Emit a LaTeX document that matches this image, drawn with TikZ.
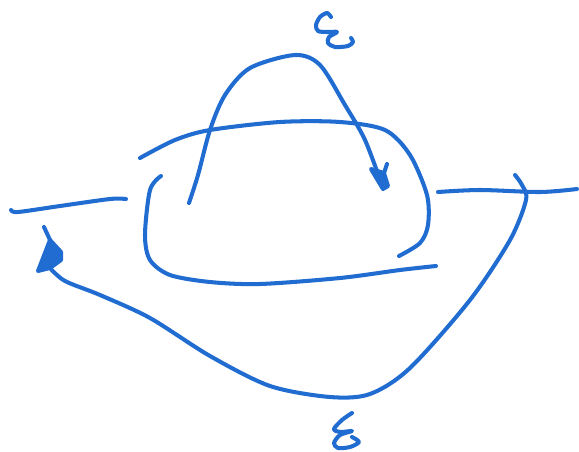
\documentclass[tikz,border=0pt]{standalone}
\usepackage{tikz}
\usepackage{xcolor}
\definecolor{bleuencre}{RGB}{32, 108, 208}
\tikzset{trait/.style={draw=bleuencre, line width=2.3pt, line cap=round, line join=round},
  pointe/.style={trait, fill=bleuencre}}

\begin{document}
\begin{tikzpicture}[x=0.02cm, y=-0.02cm]
  \useasboundingbox (0,0) rectangle (579,451);
  % fils gauche et droit
  \draw[trait] plot[smooth] coordinates {(11,210) (18,212) (60,206) (110,199) (126,199)};
  \draw[trait] plot[smooth] coordinates {(438,192) (480,190) (540,192) (577,189)};
  % boucles
  \draw[trait] plot[smooth] coordinates {(140,158) (175,140) (210,130) (280,122) (340,122) (385,130) (410,155) (427,195) (428,225) (420,243) (399,256)};
  \draw[trait] plot[smooth] coordinates {(161,176) (150,190) (145,235) (150,260) (170,275) (210,282) (260,284) (340,278) (400,270) (436,266)};
  % arc du haut
  \draw[trait] plot[smooth] coordinates {(189,203) (198,175) (210,130) (225,95) (250,68) (295,55) (320,65) (345,105) (365,140) (383,188)};
  \draw[pointe] (371,169) -- (383,189) -- (388,186) -- (384,173) -- cycle;
  \draw[trait] (384,173) -- (387,164);
  % arc du bas
  \draw[trait] plot[smooth] coordinates {(50,268) (65,281) (100,295) (150,318) (210,356) (270,386) (330,397) (370,394) (410,368) (470,300) (510,240) (526,200) (522,185) (515,175)};
  \draw[trait] (44,227) -- (50,240);
  \draw[pointe] (50,240) -- (61,252) -- (61,260) -- (50,268) -- (38,271) -- cycle;
  % epsilons
  \draw[trait] plot[smooth] coordinates {(331,17) (327,13) (320,17) (316,25) (318,31) (327,32) (337,32) (329,37) (328,43) (335,47) (348,46) (353,42) (351,38)};
  \draw[trait] plot[smooth] coordinates {(352,413) (342,420) (334,429) (340,432) (352,431) (340,435) (334,443) (338,448) (350,447) (359,442) (352,437)};
\end{tikzpicture}
\end{document}
